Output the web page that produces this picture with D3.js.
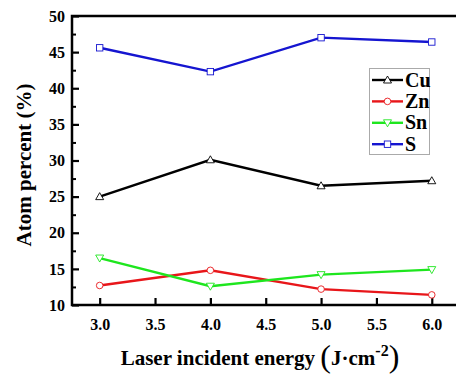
<!DOCTYPE html>
<html><head><meta charset="utf-8">
<script src="https://cdn.jsdelivr.net/npm/d3@7"></script>
<style>body{margin:0;background:#fff;}</style>
</head><body>
<svg id="c" width="456" height="378"></svg>
<script>
const energies = [3.0, 4.0, 5.0, 6.0];
const cu = [25.0, 30.1, 26.5, 27.2];
const zn = [12.7, 14.8, 12.2, 11.4];
const sn = [16.5, 12.6, 14.2, 14.9];
const s  = [45.6, 42.3, 47.0, 46.4];
const xTicks = [3.0, 3.5, 4.0, 4.5, 5.0, 5.5, 6.0];
const yTicks = [10, 15, 20, 25, 30, 35, 40, 45, 50];
const yMinor = [12.5, 17.5, 22.5, 27.5, 32.5, 37.5, 42.5, 47.5];
const seriesNames = ["Cu", "Zn", "Sn", "S"];
const seriesColors = ["#000000", "#e8161a", "#1ee61e", "#1515d0"];
const seriesShapes = ["triUp", "circle", "triDown", "square"];
const seriesData = [cu, zn, sn, s];

const FF = '"Liberation Serif"';
const svg = d3.select("#c").style("font-family", FF);
const L = 72, T = 16, B = 305;
const x = d3.scaleLinear().domain([2.75, 6.25]).range([L, L + 3.5 * 110.7]);
const y = d3.scaleLinear().domain([10, 50]).range([B, T]);

function marker(g, shape, cx, cy, color) {
  if (shape === "circle") {
    g.append("circle").attr("cx", cx).attr("cy", cy).attr("r", 3.3)
      .attr("fill", "#fff").attr("stroke", color).attr("stroke-width", 0.9);
  } else if (shape === "square") {
    g.append("rect").attr("x", cx - 3.2).attr("y", cy - 3.2).attr("width", 6.4).attr("height", 6.4)
      .attr("fill", "#fff").attr("stroke", color).attr("stroke-width", 0.9);
  } else if (shape === "triUp") {
    g.append("path").attr("d", `M${cx},${cy - 4}L${cx + 4},${cy + 3}L${cx - 4},${cy + 3}Z`)
      .attr("fill", "#fff").attr("stroke", color).attr("stroke-width", 0.9);
  } else {
    g.append("path").attr("d", `M${cx},${cy + 4}L${cx + 4},${cy - 3}L${cx - 4},${cy - 3}Z`)
      .attr("fill", "#fff").attr("stroke", color).attr("stroke-width", 0.9);
  }
}

// frame
svg.append("rect").attr("x", L).attr("y", T).attr("width", x(6.25) - L).attr("height", B - T)
  .attr("fill", "none").attr("stroke", "#000").attr("stroke-width", 2.5);

// y axis
const yAxis = d3.axisRight(y).tickValues(yTicks).tickSize(7).tickFormat(d3.format("d"));
const gy = svg.append("g").attr("transform", `translate(${L},0)`).call(yAxis);
gy.attr("font-family", null).attr("font-size", null);
gy.select(".domain").remove();
gy.selectAll(".tick line").attr("stroke", "#000").attr("stroke-width", 2.2);
gy.selectAll(".tick text").attr("x", -7).attr("text-anchor", "end")
  .style("font-family", FF).style("font-weight", "bold").style("font-size", "16px").attr("fill", "#000");
const yAxisMinor = d3.axisRight(y).tickValues(yMinor).tickSize(4).tickFormat("");
const gym = svg.append("g").attr("transform", `translate(${L},0)`).call(yAxisMinor);
gym.select(".domain").remove();
gym.selectAll(".tick line").attr("stroke", "#000").attr("stroke-width", 2);

// x axis
const xAxis = d3.axisTop(x).tickValues(xTicks).tickSize(7).tickFormat(d3.format(".1f"));
const gx = svg.append("g").attr("transform", `translate(0,${B})`).call(xAxis);
gx.attr("font-family", null).attr("font-size", null);
gx.select(".domain").remove();
gx.selectAll(".tick line").attr("stroke", "#000").attr("stroke-width", 2.2);
gx.selectAll(".tick text").attr("y", 25).attr("dy", 0)
  .style("font-family", FF).style("font-weight", "bold").style("font-size", "16px").attr("fill", "#000");

// series
const line = d3.line().x((d, i) => x(energies[i])).y(d => y(d));
seriesData.forEach((vals, k) => {
  svg.append("path").datum(vals).attr("d", line).attr("fill", "none")
    .attr("stroke", seriesColors[k]).attr("stroke-width", 2.4);
});
seriesData.forEach((vals, k) => {
  const g = svg.append("g");
  vals.forEach((v, i) => marker(g, seriesShapes[k], x(energies[i]), y(v), seriesColors[k]));
});

// legend
const lg = svg.append("g");
lg.append("rect").attr("x", 369.5).attr("y", 68.5).attr("width", 60).attr("height", 86)
  .attr("fill", "#fff").attr("stroke", "#aaa").attr("stroke-width", 1);
seriesNames.forEach((n, k) => {
  const yy = 80 + k * 21.4;
  lg.append("line").attr("x1", 372).attr("x2", 403).attr("y1", yy).attr("y2", yy)
    .attr("stroke", seriesColors[k]).attr("stroke-width", 2.4);
  marker(lg, seriesShapes[k], 387.5, yy, seriesColors[k]);
  lg.append("text").attr("x", 405).attr("y", yy + 6.5)
    .style("font-family", FF).style("font-weight", "bold").style("font-size", "20px").attr("fill", "#000").text(n);
});

// y title
svg.append("text").attr("transform", "translate(31,165) rotate(-90)").attr("text-anchor", "middle")
  .style("font-family", FF).style("font-weight", "bold").style("font-size", "21px").attr("fill", "#000")
  .text("Atom percent (%)");

// x title
const xt = svg.append("text").attr("x", 260).attr("y", 365).attr("text-anchor", "middle")
  .style("font-family", FF).style("font-weight", "bold").style("font-size", "21px").attr("fill", "#000");
xt.append("tspan").text("Laser incident energy ");
xt.append("tspan").style("font-size", "32px").style("font-weight", "normal").attr("dy", 2).text("(");
xt.append("tspan").attr("dy", -2).text("J·cm");
xt.append("tspan").style("font-size", "16px").attr("dy", -9).text("-2");
xt.append("tspan").style("font-size", "32px").style("font-weight", "normal").attr("dy", 11).text(")");
</script>
</body></html>
